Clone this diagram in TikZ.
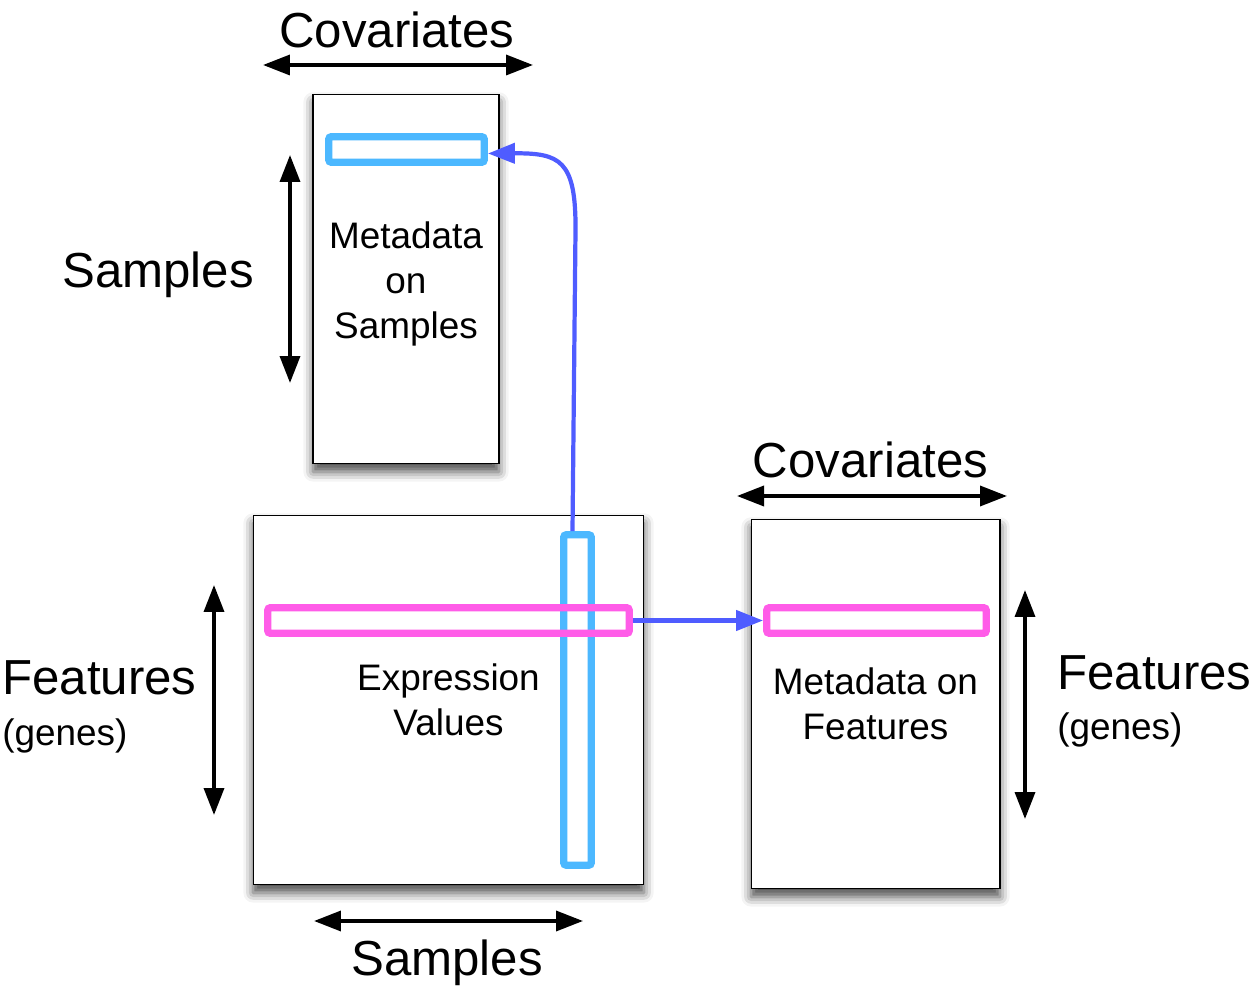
\documentclass[tikz,border=0pt]{standalone}
\usepackage{fontspec}
\setmainfont{Liberation Sans}
\usetikzlibrary{arrows.meta, positioning, shadows.blur}
\definecolor{selblue}{HTML}{4CB8FF}
\definecolor{selpink}{HTML}{FF5CE8}
\definecolor{linkblue}{HTML}{4F5CFF}

\begin{document}
\begin{tikzpicture}[x=0.02cm, y=-0.02cm,
  table/.style={rectangle, draw=black, line width=0.6pt, fill=white,
                minimum height=7.4cm, inner sep=0pt, align=center,
                font=\fontsize{21}{25.8}\selectfont,
                blur shadow={shadow xshift=0pt, shadow yshift=-4.5pt,
                             shadow blur radius=5.5pt, shadow opacity=70}},
  slice/.style={rectangle, rounded corners=1.5pt, line width=4.2pt,
                inner sep=0pt, minimum height=0.51cm},
  dim/.style={{Triangle[length=0.54cm, width=0.4cm]}-{Triangle[length=0.54cm, width=0.4cm]},
              line width=2pt},
  link/.style={-{Triangle[length=0.54cm, width=0.4cm]}, line width=2.4pt, color=linkblue},
  big/.style={font=\fontsize{28}{34}\selectfont, inner sep=0pt},
  small/.style={font=\fontsize{21}{25}\selectfont, inner sep=0pt},
]
\useasboundingbox (0,0) rectangle (1252,989);

% Tables
\node[table, minimum width=3.72cm] (msamp) at (406,279)   {};
\node[table, minimum width=7.82cm] (expr)  at (448.5,700) {Expression\\Values};
\node[table, minimum width=4.98cm] (mfeat) at (875.5,704) {Metadata on\\Features};
\node[small, align=center, font=\fontsize{21}{25.8}\selectfont]
  (msamptext) at ([yshift=-0.1cm]msamp.center) {Metadata\\on\\Samples};

% Selected slices
\node[slice, draw=selblue, minimum width=3.11cm] (srow) at (406.5,149.5) {};
\node[slice, draw=selblue, minimum width=0.55cm, minimum height=6.61cm] (scol) at (577.5,700) {};
\node[slice, draw=selpink, minimum width=7.23cm] (frow)  at (448.5,620.5) {};
\node[slice, draw=selpink, minimum width=4.39cm] (frow2) at (876.5,620.5) {};

% Links
\draw[link] ([xshift=-0.1cm]scol.north) -- (575.5,230)
  .. controls (576,160) and (560,153) .. ([yshift=-0.08cm]srow.east);
\draw[link] (frow.east) -- (frow2.west);

% Dimension arrows
\coordinate (covA1) at (263,65);   \coordinate (covA2) at (533,65);
\coordinate (smpA1) at (290,155);  \coordinate (smpA2) at (290,383);
\coordinate (feaA1) at (214,585);  \coordinate (feaA2) at (214,815);
\coordinate (smpB1) at (314,921);  \coordinate (smpB2) at (583,921);
\coordinate (covB1) at (737,496);  \coordinate (covB2) at (1007,496);
\coordinate (feaB1) at (1025,590); \coordinate (feaB2) at (1025,819);
\foreach \a/\b in {covA1/covA2, smpA1/smpA2, feaA1/feaA2,
                   smpB1/smpB2, covB1/covB2, feaB1/feaB2}
  \draw[dim] (\a) -- (\b);

% Axis labels
\node[big, anchor=base] (covtop) at (397,48) {Covariates};
\node[big, anchor=base] (smpleft) at (158,288) {Samples};
\node[big, anchor=base west] (fealeft) at (2,695) {Features};
\node[small, anchor=base west] (genleft) at (2,746) {(genes)};
\node[big, anchor=base] (smpbot) at (447,975) {Samples};
\node[big, anchor=base] (covright) at (870.5,478) {Covariates};
\node[big, anchor=base west] (fearight) at (1057,690) {Features};
\node[small, anchor=base west] (genright) at (1057,740) {(genes)};
\end{tikzpicture}
\end{document}
